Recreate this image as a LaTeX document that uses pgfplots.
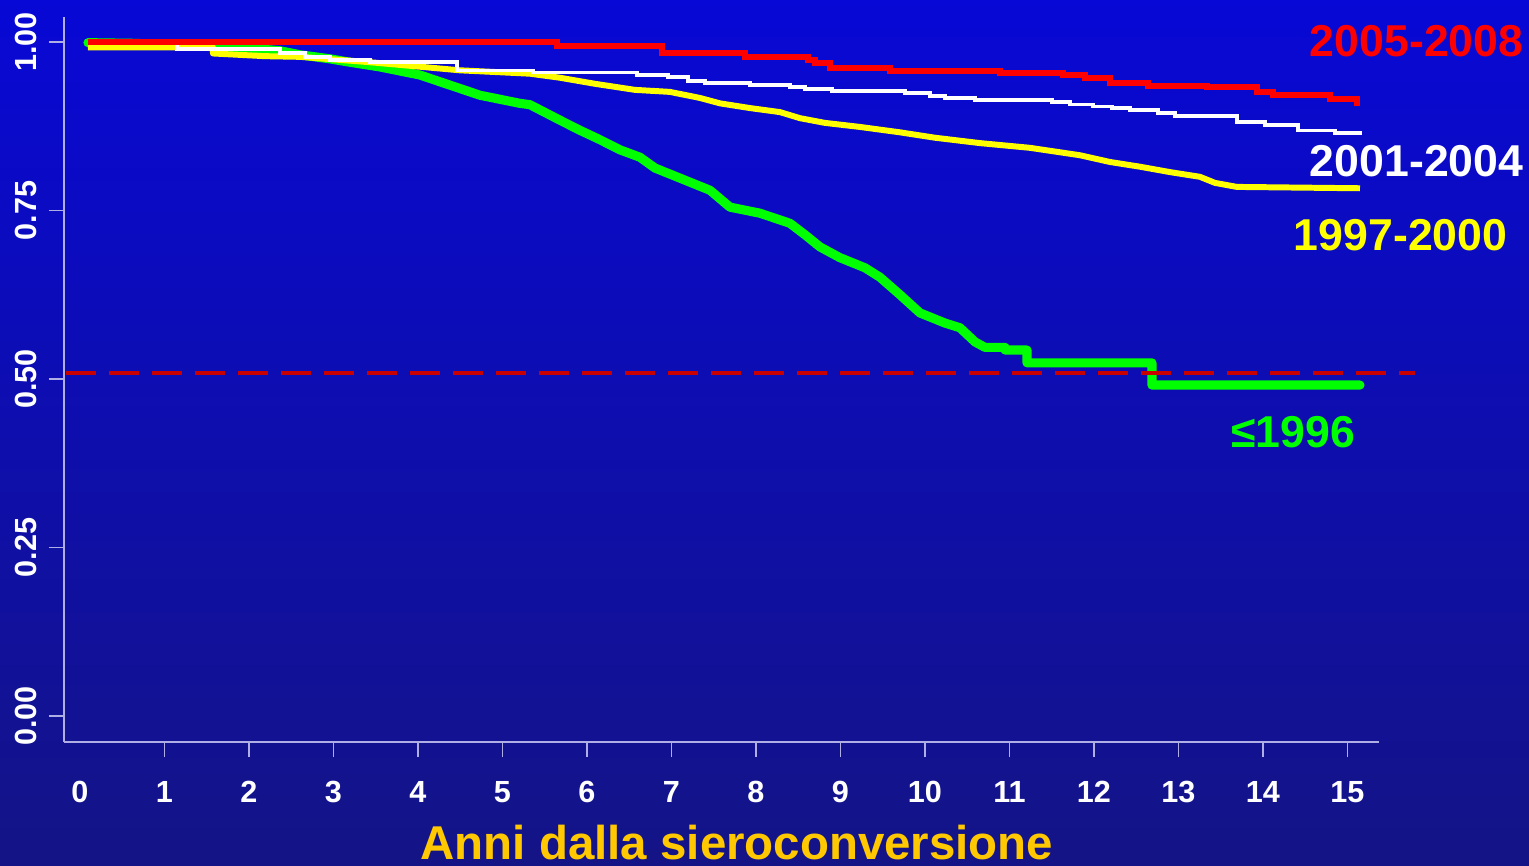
\documentclass[border=0pt]{standalone}
\usepackage{fontspec}
\setmainfont{Liberation Sans}
\usepackage{pgfplots}
\pgfplotsset{compat=1.18}
\definecolor{bgtop}{RGB}{8,8,214}
\definecolor{bgbot}{RGB}{20,20,134}
\definecolor{axcol}{RGB}{175,175,230}
\definecolor{kmred}{RGB}{255,0,0}
\definecolor{kmyellow}{RGB}{255,255,0}
\definecolor{kmgreen}{RGB}{0,255,0}
\definecolor{halfred}{RGB}{200,0,0}
\definecolor{gold}{RGB}{255,200,0}

\begin{document}
\begin{tikzpicture}
\shade[top color=bgtop, bottom color=bgbot] (0,0) rectangle (15.29,8.65);
\begin{axis}[
  at={(0.64cm,1.23cm)}, anchor=south west,
  scale only axis, width=13.15cm, height=7.25cm,
  xmin=-0.189, xmax=15.373, ymin=-0.0386, ymax=1.0371,
  axis x line*=bottom, axis y line*=left,
  axis line style={draw=axcol, line width=0.5pt},
  tick align=outside, major tick length=1.5mm,
  tick style={draw=axcol, line width=0.5pt},
  xtick={1,...,15},
  xticklabels={1,2,3,4,5,6,7,8,9,10,11,12,13,14,15},
  extra x ticks={0}, extra x tick labels={0},
  extra x tick style={tick style={draw=none}},
  ytick={0,0.25,0.5,0.75,1},
  yticklabels={0.00,0.25,0.50,0.75,1.00},
  xticklabel style={yshift=-1.2mm, font=\fontsize{8.7}{10}\selectfont\bfseries, text=white},
  yticklabel style={rotate=90, anchor=south, font=\fontsize{8.7}{10}\selectfont\bfseries, text=white},
  clip=false,
]
% <=1996
\addplot[kmgreen, line width=2.6pt, line join=round, line cap=round] coordinates {
(0.095,0.999) (0.651,0.998) (1.420,0.994) (2.012,0.991) (2.367,0.987) (2.604,0.981)
(2.959,0.975) (3.195,0.970) (3.550,0.963) (4.024,0.951) (4.379,0.936) (4.734,0.921)
(5.207,0.909) (5.325,0.907) (5.680,0.884) (5.917,0.869) (6.154,0.855) (6.391,0.840)
(6.627,0.829) (6.805,0.813) (7.101,0.798) (7.456,0.780) (7.692,0.755) (8.047,0.746)
(8.402,0.731) (8.580,0.714) (8.757,0.696) (8.994,0.680) (9.290,0.665) (9.467,0.651)
(9.704,0.625) (9.941,0.598) (10.237,0.583) (10.414,0.576) (10.592,0.555) (10.710,0.547)
(10.947,0.547) (10.947,0.543) (11.207,0.543) (11.207,0.524) (12.686,0.524)
(12.686,0.491) (15.148,0.491)};
% 1997-2000
\addplot[kmyellow, line width=1.7pt, line join=round] coordinates {
(0.095,0.992) (1.574,0.992) (1.574,0.983) (2.189,0.979) (2.604,0.978) (3.432,0.970)
(3.787,0.966) (4.497,0.958) (5.325,0.953) (5.680,0.947) (6.095,0.938) (6.568,0.929)
(6.982,0.926) (7.337,0.917) (7.574,0.909) (7.929,0.902) (8.284,0.896) (8.521,0.887)
(8.817,0.880) (9.231,0.874) (9.704,0.866) (10.118,0.858) (10.651,0.850) (11.243,0.843)
(11.834,0.832) (12.189,0.822) (12.544,0.815) (12.899,0.807) (13.254,0.800) (13.432,0.791)
(13.692,0.785) (15.148,0.783)};
% 2001-2004
\addplot[white, line width=1pt, const plot] coordinates {
(0.095,0.999) (1.148,0.990) (2.367,0.984) (2.663,0.978) (2.959,0.973) (3.432,0.970)
(4.462,0.958) (5.361,0.955) (6.592,0.951) (6.959,0.948) (7.195,0.942) (7.396,0.939)
(7.929,0.936) (8.402,0.933) (8.580,0.930) (8.899,0.927) (9.763,0.924) (10.059,0.920)
(10.237,0.917) (10.592,0.914) (11.503,0.911) (11.716,0.907) (11.988,0.904) (12.213,0.902)
(12.426,0.899) (12.757,0.895) (12.959,0.890) (13.692,0.881) (14.024,0.877) (14.414,0.869)
(14.852,0.865) (15.148,0.862)};
% 2005-2008
\addplot[kmred, line width=1.7pt, const plot] coordinates {
(0.095,1.000) (5.645,0.994) (6.890,0.984) (7.870,0.978) (8.615,0.973) (8.700,0.969)
(8.876,0.961) (9.586,0.957) (10.890,0.954) (11.630,0.951) (11.890,0.947) (12.190,0.939)
(12.640,0.935) (13.340,0.933) (13.930,0.926) (14.120,0.921) (14.790,0.915) (15.110,0.909)
(15.148,0.909)};
% median line
\addplot[halfred, line width=1.1pt, dash pattern=on 3mm off 1.3mm] coordinates {
(-0.17,0.509) (15.8,0.509)};
\node[anchor=base east, inner sep=0, text=kmred, font=\fontsize{12.7}{14}\selectfont\bfseries]
  at (axis cs:17.09,0.978) {2005-2008};
\node[anchor=base east, inner sep=0, text=white, font=\fontsize{12.7}{14}\selectfont\bfseries]
  at (axis cs:17.09,0.800) {2001-2004};
\node[anchor=base east, inner sep=0, text=kmyellow, font=\fontsize{12.7}{14}\selectfont\bfseries]
  at (axis cs:16.90,0.691) {1997-2000};
\node[anchor=base east, inner sep=0, text=kmgreen, font=\fontsize{12.7}{14}\selectfont\bfseries]
  at (axis cs:15.10,0.398) {≤1996};
\node[anchor=base, inner sep=0, text=gold, font=\fontsize{13.5}{15}\selectfont\bfseries]
  at (axis cs:7.775,-0.2136) {Anni dalla sieroconversione};
\end{axis}
\pgfresetboundingbox
\path (0,0) rectangle (15.29,8.65);
\end{tikzpicture}
\end{document}
